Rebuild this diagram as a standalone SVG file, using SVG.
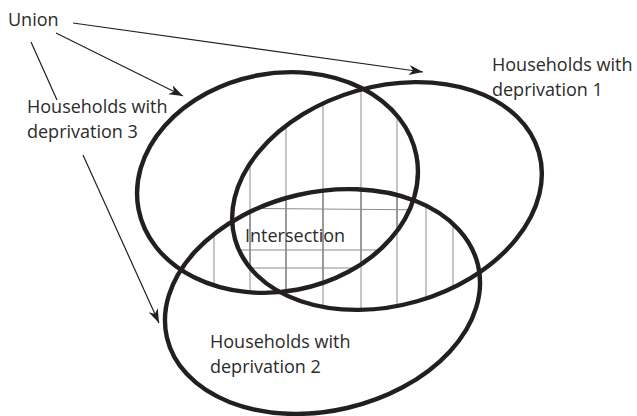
<svg xmlns="http://www.w3.org/2000/svg" width="637" height="416" viewBox="0 0 637 416">
  <style>
    .ell { fill: none; stroke: #231f20; stroke-width: 4.4; }
    .lbl { font-family: "Open Sans", "Liberation Sans", sans-serif; font-size: 18px; fill: #2b2b2b; }
    .hatch { stroke: #8c8c8c; stroke-width: 1; fill: none; }
    .conn { stroke: #231f20; stroke-width: 1.2; fill: none; }
  </style>
  <defs>
    <clipPath id="cE1"><ellipse cx="387" cy="196" rx="158" ry="109.5" transform="rotate(-16 387 196)"/></clipPath>
    <clipPath id="cE2"><ellipse cx="322.5" cy="301.5" rx="159.7" ry="109.3" transform="rotate(-13 322.5 301.5)"/></clipPath>
    <clipPath id="cE3"><ellipse cx="277.5" cy="182.5" rx="141.5" ry="109" transform="rotate(-11 277.5 182.5)"/></clipPath>
    <g id="vlines" class="hatch">
      <line x1="214" y1="60" x2="214" y2="340"/>
      <line x1="250" y1="60" x2="250" y2="340"/>
      <line x1="286" y1="60" x2="286" y2="340"/>
      <line x1="323" y1="60" x2="323" y2="340"/>
      <line x1="361" y1="60" x2="361" y2="340"/>
      <line x1="397" y1="60" x2="397" y2="340"/>
      <line x1="426" y1="60" x2="426" y2="340"/>
      <line x1="453" y1="60" x2="453" y2="340"/>
    </g>
    <marker id="arr" markerWidth="15" markerHeight="11" refX="14" refY="5" orient="auto" markerUnits="userSpaceOnUse">
      <path d="M0,0 L14,5 L0,10 L4,5 Z" fill="#231f20"/>
    </marker>
  </defs>
  <rect width="637" height="416" fill="#ffffff"/>

  <g id="hatching">
    <g clip-path="url(#cE1)"><g clip-path="url(#cE3)"><use href="#vlines"/></g></g>
    <g clip-path="url(#cE1)"><g clip-path="url(#cE2)"><use href="#vlines"/></g></g>
    <g clip-path="url(#cE2)"><g clip-path="url(#cE3)"><use href="#vlines"/></g></g>
    <g clip-path="url(#cE1)"><g clip-path="url(#cE2)"><g clip-path="url(#cE3)">
      <g class="hatch">
        <line x1="200" y1="208" x2="440" y2="210"/>
        <line x1="200" y1="250" x2="440" y2="250"/>
        <line x1="200" y1="268" x2="440" y2="268"/>
      </g>
    </g></g></g>
  </g>

  <g id="set3">
    <ellipse class="ell" cx="277.5" cy="182.5" rx="141.5" ry="109" transform="rotate(-11 277.5 182.5)"/>
    <text class="lbl" x="27" y="113">Households with</text>
    <text class="lbl" x="27" y="138">deprivation 3</text>
  </g>
  <g id="set1">
    <ellipse class="ell" cx="387" cy="196" rx="158" ry="109.5" transform="rotate(-16 387 196)"/>
    <text class="lbl" x="492" y="71">Households with</text>
    <text class="lbl" x="492" y="96">deprivation 1</text>
  </g>
  <g id="set2">
    <ellipse class="ell" cx="322.5" cy="301.5" rx="159.7" ry="109.3" transform="rotate(-13 322.5 301.5)"/>
    <text class="lbl" x="210" y="348">Households with</text>
    <text class="lbl" x="210" y="373">deprivation 2</text>
  </g>
  <g id="union">
    <text class="lbl" x="8" y="26">Union</text>
  </g>
  <g id="intersection">
    <text class="lbl" x="245" y="242">Intersection</text>
  </g>

  <g id="connectors">
    <line class="conn" x1="73" y1="23" x2="423" y2="72" marker-end="url(#arr)"/>
    <line class="conn" x1="56" y1="33" x2="183" y2="96" marker-end="url(#arr)"/>
    <line class="conn" x1="31" y1="42" x2="57" y2="100"/>
    <line class="conn" x1="83" y1="155" x2="159" y2="323" marker-end="url(#arr)"/>
  </g>
</svg>
